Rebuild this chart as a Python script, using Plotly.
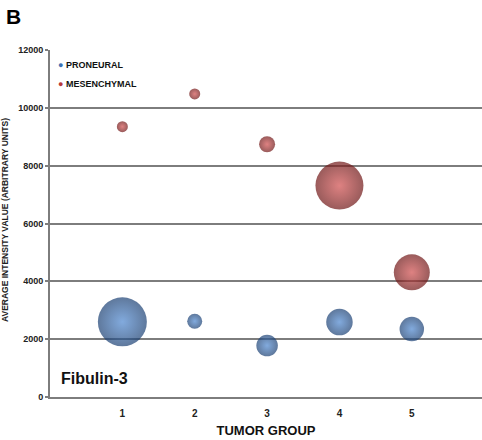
import plotly.graph_objects as go

# ---- data ----
tumor_groups = [1, 2, 3, 4, 5]
proneural_values = [2600, 2620, 1780, 2590, 2350]
proneural_sizes = [49, 15, 21.5, 26.5, 24.5]
mesenchymal_values = [9350, 10480, 8740, 7310, 4310]
mesenchymal_sizes = [11, 11, 16, 48, 36]
y_ticks = [0, 2000, 4000, 6000, 8000, 10000, 12000]
x_ticks = [1, 2, 3, 4, 5]

FONT = "Liberation Sans, Arial, sans-serif"
GRID = "#7d7d7d"
BLUE = "#3d72b5"
RED = "#b83a3a"

fig = go.Figure()

# data bubbles (radial gradient: marker color = rim, gradient color = centre)
fig.add_trace(go.Scatter(
    x=tumor_groups, y=proneural_values, mode="markers", showlegend=False,
    marker=dict(size=proneural_sizes, sizemode="diameter", sizeref=1,
                color="#1a3f72", line=dict(width=0),
                gradient=dict(type="radial", color="#4c86cf")),
    hoverinfo="x+y", name="PRONEURAL"))
fig.add_trace(go.Scatter(
    x=tumor_groups, y=mesenchymal_values, mode="markers", showlegend=False,
    marker=dict(size=mesenchymal_sizes, sizemode="diameter", sizeref=1,
                color="#6e1515", line=dict(width=0),
                gradient=dict(type="radial", color="#d04c4c")),
    hoverinfo="x+y", name="MESENCHYMAL"))

# legend entries (bullet drawn in the label text)
fig.add_trace(go.Scatter(x=[None], y=[None], mode="markers",
                         name=f"<span style='color:{BLUE}'>●</span> PRONEURAL",
                         marker=dict(size=5, color="rgba(0,0,0,0)")))
fig.add_trace(go.Scatter(x=[None], y=[None], mode="markers",
                         name=f"<span style='color:{RED}'>●</span> MESENCHYMAL",
                         marker=dict(size=5, color="rgba(0,0,0,0)")))

fig.update_layout(
    width=482, height=440,
    margin=dict(l=50, r=0, t=50, b=43),
    paper_bgcolor="white", plot_bgcolor="white",
    font=dict(family=FONT, color="#111111"),
    showlegend=True,
    legend=dict(x=-32/432, y=1.0, xanchor="left", yanchor="top",
                bgcolor="rgba(0,0,0,0)", borderwidth=0,
                font=dict(size=9, family=FONT, weight="bold", color="#111"),
                itemwidth=30, tracegroupgap=0),
    xaxis=dict(range=[0, 5.97], tickvals=x_ticks, ticktext=[str(v) for v in x_ticks],
               showgrid=False, zeroline=False, automargin=False,
               showline=True, linecolor=GRID, linewidth=2,
               ticks="", ticklabelstandoff=6,
               tickfont=dict(size=10, family=FONT, weight="bold", color="#222"),
               title=dict(text="TUMOR GROUP", standoff=8,
                          font=dict(size=13, family=FONT, weight="bold", color="#111"))),
    yaxis=dict(range=[0, 12000], tickvals=y_ticks, ticktext=[str(v) for v in y_ticks],
               showgrid=True, gridcolor=GRID, gridwidth=2, automargin=False,
               zeroline=False, showline=True, linecolor=GRID, linewidth=2,
               ticks="outside", ticklen=3, tickcolor=GRID, tickwidth=2,
               tickfont=dict(size=9, family=FONT, weight="bold", color="#222")),
    annotations=[
        dict(text="B", xref="paper", yref="paper", x=-46/432, y=1 + 34/347,
             xanchor="left", yanchor="middle", showarrow=False,
             font=dict(size=21, family=FONT, weight="bold", color="#000")),
        dict(text="Fibulin-3", xref="paper", yref="paper", x=9/432, y=19/347,
             xanchor="left", yanchor="middle", showarrow=False,
             font=dict(size=16, family=FONT, weight="bold", color="#111")),
        dict(text="AVERAGE INTENSITY VALUE (ARBITRARY UNITS)", xref="paper", yref="paper",
             x=-45/432, y=0.51, xanchor="center", yanchor="middle", textangle=-90,
             showarrow=False,
             font=dict(size=8.5, family=FONT, weight="bold", color="#222")),
    ],
)

fig.write_html("out.html", config={"displayModeBar": False},
               post_script="document.body.style.margin='0';document.body.style.overflow='hidden';")
